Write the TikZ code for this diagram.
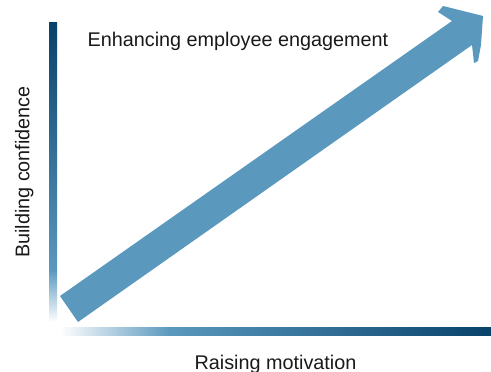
\documentclass[tikz,border=0pt]{standalone}
\usepackage{fontspec}
\setmainfont{Liberation Sans}
\definecolor{navy}{RGB}{8,66,106}
\definecolor{steel}{RGB}{90,152,190}
\definecolor{arrowblue}{RGB}{90,152,190}
\definecolor{textdark}{RGB}{25,25,25}
\pgfdeclareverticalshading{vbarshade}{100bp}{color(0bp)=(white); color(25bp)=(white); color(33.7bp)=(steel); color(75bp)=(navy); color(100bp)=(navy)}
\pgfdeclarehorizontalshading{hbarshade}{100bp}{color(0bp)=(white); color(25bp)=(white); color(37.8bp)=(steel); color(75bp)=(navy); color(100bp)=(navy)}
\tikzset{
  labeltext/.style={font=\fontsize{19.8}{24}\selectfont, inner sep=0pt, text=textdark},
  bigarrow/.style={fill=arrowblue, draw=none}
}
\begin{document}
\begin{tikzpicture}[x=1pt,y=-1pt]
\useasboundingbox (0,0) rectangle (491,372);
% axes bars
\path[shading=vbarshade] (49,22) rectangle (57,322);
\path[shading=hbarshade] (60,327) rectangle (491,335);
% big arrow
\path[bigarrow] (60,296) -- (452,21) -- (438,12) -- (443,6) -- (483,16) -- (481,45) -- (478,61) -- (474,63) -- (472,45) -- (78,322) -- cycle;
% labels
\node[labeltext, anchor=base west] (title) at (87.5,46.7) {Enhancing employee engagement};
\node[labeltext, anchor=base] (xlabel) at (275.5,369) {Raising motivation};
\node[labeltext, anchor=base, rotate=90] (ylabel) at (29.5,172) {Building confidence};
\end{tikzpicture}
\end{document}
